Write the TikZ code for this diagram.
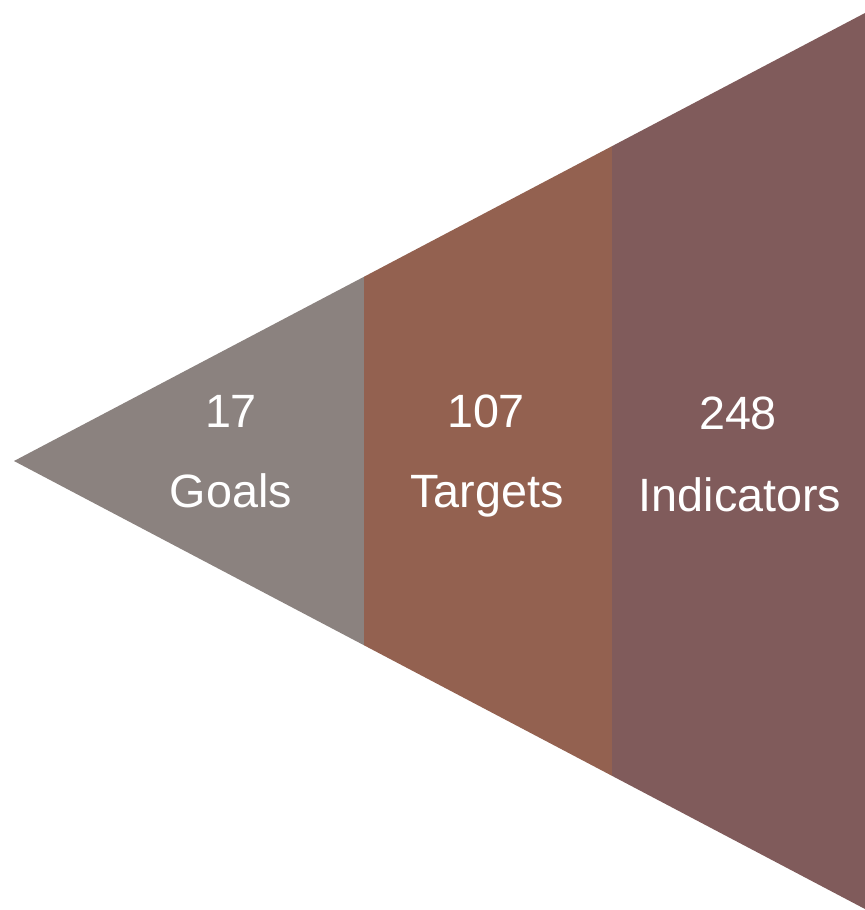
\documentclass[tikz,border=0pt]{standalone}
\usepackage{fontspec}
\setmainfont{Liberation Sans}
\usepackage{xcolor}
\definecolor{goalgray}{RGB}{139,130,127}
\definecolor{targetbrown}{RGB}{147,97,80}
\definecolor{indicatorplum}{RGB}{128,91,91}

\begin{document}
\begin{tikzpicture}[x=0.02cm,y=-0.02cm]
		\def\ax{14}
		\def\ay{461}
		\def\ex{865}
		\def\ty{13}
		\def\by{909}
		\def\ca{364}
		\def\cb{612}
		\def\sl{0.52644}
		\tikzset{lbl/.style={text=white,font=\fontsize{26.6}{30}\selectfont,inner sep=0pt,anchor=base}}
		\useasboundingbox (0,0) rectangle (865,910);
		% the three bands of the wedge
		\fill[goalgray] (\ax,\ay) -- ({\ca},{\ay-\sl*(\ca-\ax)}) -- ({\ca},{\ay+\sl*(\ca-\ax)}) -- cycle;
		\fill[targetbrown] ({\ca},{\ay-\sl*(\ca-\ax)}) -- ({\cb},{\ay-\sl*(\cb-\ax)}) -- ({\cb},{\ay+\sl*(\cb-\ax)}) -- ({\ca},{\ay+\sl*(\ca-\ax)}) -- cycle;
		\fill[indicatorplum] ({\cb},{\ay-\sl*(\cb-\ax)}) -- (\ex,\ty) -- (\ex,\by) -- ({\cb},{\ay+\sl*(\cb-\ax)}) -- cycle;
		% labels
		\node[lbl] (goalsnum) at (231,427) {17};
		\node[lbl] (goalstxt) at (231,507) {Goals};
		\node[lbl] (targetsnum) at (486,427) {107};
		\node[lbl] (targetstxt) at (487,507) {Targets};
		\node[lbl] (indnum) at (738,429) {248};
		\node[lbl] (indtxt) at (740,511) {Indicators};
		%\draw[white] (\ca,0) -- (\ca,910);
\end{tikzpicture}
\end{document}
